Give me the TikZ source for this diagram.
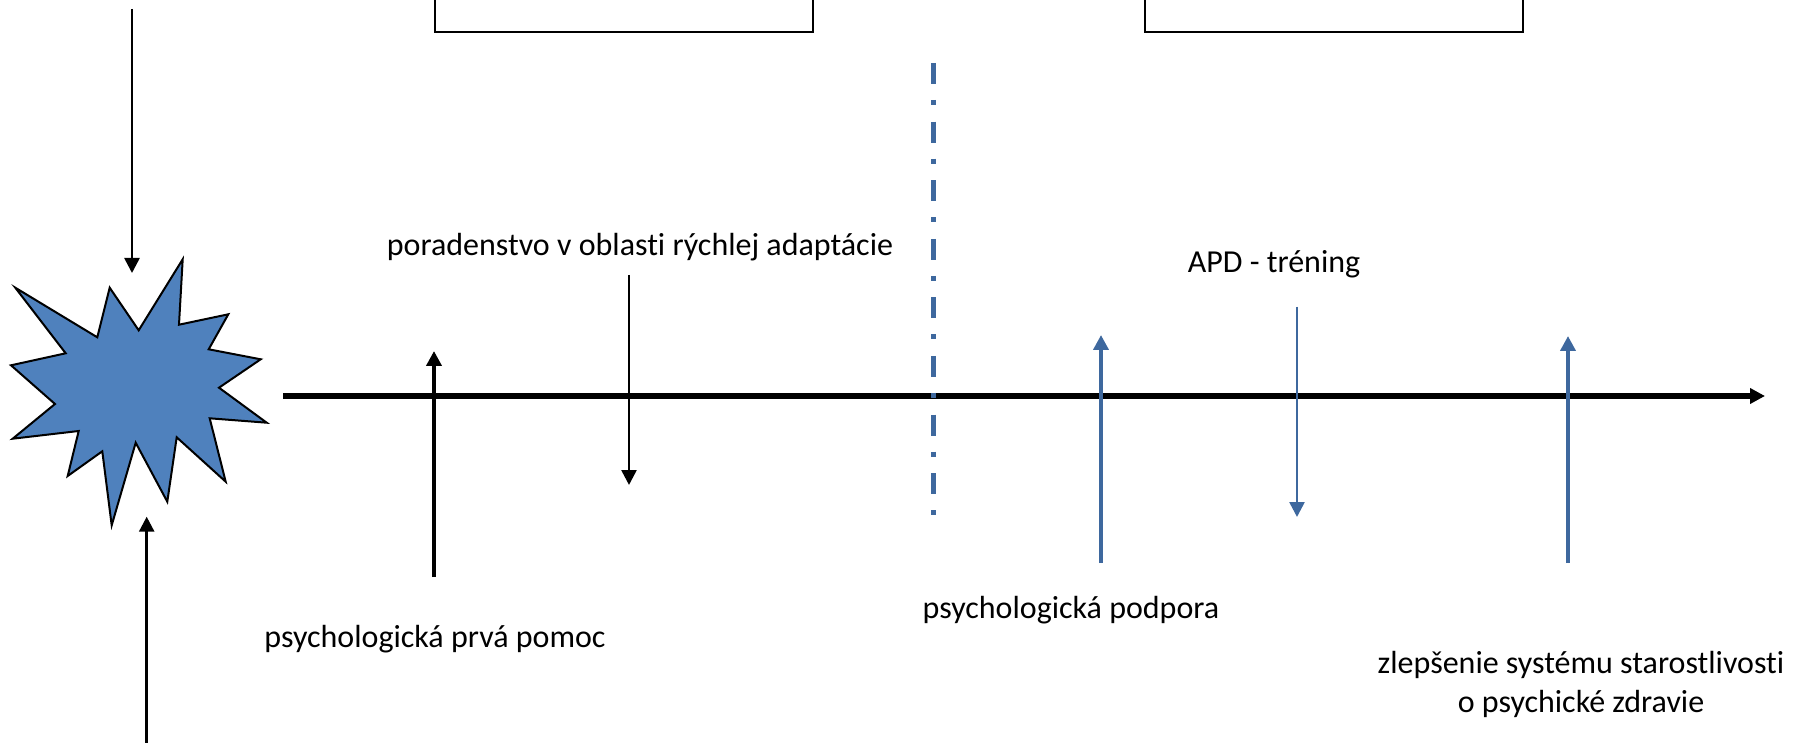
\documentclass[tikz,border=0pt]{standalone}
\usepackage{fontspec}
\setmainfont{Carlito}[Ligatures=NoCommon]
\usetikzlibrary{arrows.meta, positioning}
\definecolor{starblue}{RGB}{79,129,189}
\definecolor{lineblue}{RGB}{62,104,158}

\begin{document}
\begin{tikzpicture}[
    x=0.5pt, y=-0.5pt, % one unit per pixel, y pointing down
    % Define label style
    label style/.style={
        align=center, % Center alignment
        inner sep=0pt, % No padding
        font=\fontsize{16}{19.5}\selectfont % Text size
      },
    % Define box style
    box style/.style={
        draw, % Draw border
        rectangle, % Rectangle shape
        line width=1pt, % Border width
        minimum width=189pt, % Minimum width
        minimum height=60pt, % Minimum height
        anchor=south % Placed by its lower edge
      },
    % Define arrow styles
    >={Triangle[length=7.5pt, width=7.5pt]}, % Arrow type
    thin arrow/.style={->, line width=1.3pt},
    thick arrow/.style={->, line width=2pt},
    blue arrow/.style={draw=lineblue, fill=lineblue}
  ]

  % Fix the frame
  \useasboundingbox (0,0) rectangle (1795,743);
  \clip (0,0) rectangle (1795,743);

  % Boxes at the top, cut by the frame
  \node[box style] (leftBox) at (623.5, 32.7) {}; % Box over the first phase
  \node[box style] (rightBox) at (1334.2, 32.7) {}; % Box over the second phase

  % The event: a star
  \draw[fill=starblue, line width=1pt] (182.7,259.3) -- (179,324.7) -- (228.3,314.3) -- (208.7,349.3)
    -- (260.7,359.3) -- (219,387.7) -- (266.7,422.7) -- (209.7,418.3) -- (225.7,481.7)
    -- (176.7,437.3) -- (167.3,501.7) -- (135.7,442.7) -- (111.7,525.3) -- (102.3,451.3)
    -- (67.7,476) -- (78.7,431) -- (12.7,438.7) -- (55,404) -- (11,365.3) -- (65.7,353.3)
    -- (15.3,287.7) -- (97.3,337.3) -- (109.7,287.7) -- (138.7,330.3) -- cycle;

  % Define coordinates
  \coordinate (inTop) at (132, 9); % Arrow from above
  \coordinate (starTop) at (132, 273);
  \coordinate (inBottom) at (146.7, 745); % Arrow from below
  \coordinate (starBottom) at (146.7, 516.7);
  \coordinate (axisStart) at (283, 396); % Time axis
  \coordinate (axisEnd) at (1765, 396);
  \coordinate (phaseTop) at (933, 63); % Dividing line
  \coordinate (phaseBottom) at (933, 515);
  \coordinate (aidFoot) at (434, 577);
  \coordinate (aidTip) at (434, 351);
  \coordinate (adaptFoot) at (629, 275);
  \coordinate (adaptTip) at (629, 485);
  \coordinate (supportFoot) at (1101, 563);
  \coordinate (supportTip) at (1101, 335);
  \coordinate (apdFoot) at (1297, 307);
  \coordinate (apdTip) at (1297, 517);
  \coordinate (careFoot) at (1568, 563);
  \coordinate (careTip) at (1568, 336);

  % Define labels
  \node[label style] (adaptText) at (640, 247) {poradenstvo v oblasti rýchlej adaptácie};
  \node[label style] (aidText) at (435, 639) {psychologická prvá pomoc};
  \node[label style] (supportText) at (1071, 610) {psychologická podpora};
  \node[label style] (apdText) at (1274, 264) {APD - tréning};
  \node[label style] (careText) at (1581, 684) {zlepšenie systému starostlivosti\\o psychické zdravie};

  % Arrows into the star
  \draw[thin arrow] (inTop) -- (starTop);
  \draw[thin arrow] (inBottom) -- (starBottom);

  % Time axis
  \draw[->, line width=2.6pt] (axisStart) -- (axisEnd);

  % Dash-dot line between the phases
  \draw[lineblue, line width=2.5pt, dash pattern=on 10.5pt off 8pt on 2.5pt off 8.3pt] (phaseTop) -- (phaseBottom);

  % Black arrows of the first phase
  \draw[thick arrow] (aidFoot) -- (aidTip);
  \draw[thin arrow] (adaptFoot) -- (adaptTip);

  % Blue arrows of the second phase
  \draw[thick arrow, blue arrow] (supportFoot) -- (supportTip);
  \draw[thin arrow, blue arrow] (apdFoot) -- (apdTip);
  \draw[thick arrow, blue arrow] (careFoot) -- (careTip);

\end{tikzpicture}
\end{document}
